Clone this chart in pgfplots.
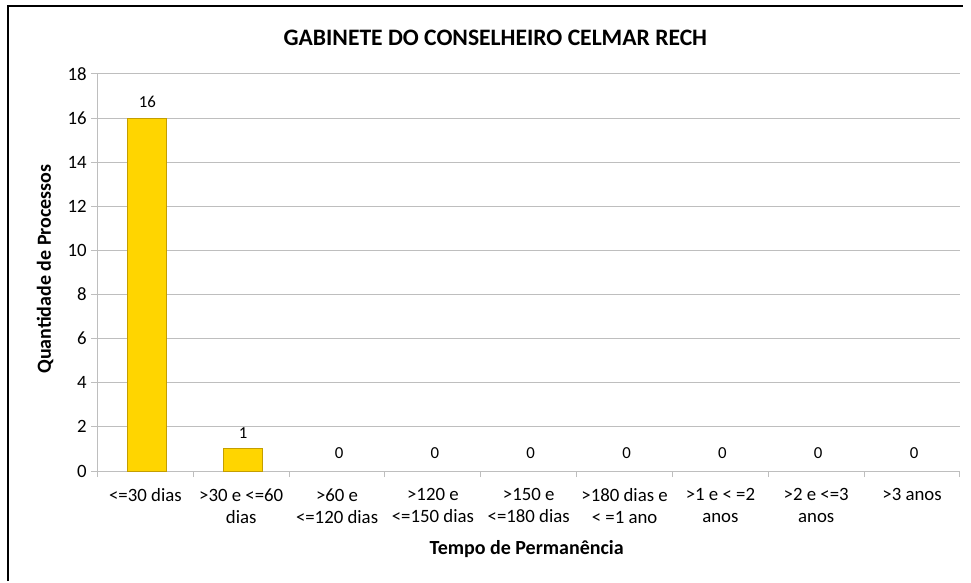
\documentclass[border=0pt]{standalone}
\usepackage{fontspec}
\setmainfont{Carlito}
\usepackage{pgfplots}
\pgfplotsset{compat=1.18}
\definecolor{gold}{RGB}{255,213,0}
\definecolor{goldedge}{RGB}{196,158,0}
\definecolor{gridc}{RGB}{190,190,190}
\begin{document}
\begin{tikzpicture}
\path (0,0) rectangle (728.25pt,435.75pt);
\draw[line width=1.5pt] (6pt,0) -- (6pt,430.9pt) -- (722.25pt,430.9pt);
\node[font=\bfseries\fontsize{17.7pt}{20pt}\selectfont] at (371.5pt,407pt) {GABINETE DO CONSELHEIRO CELMAR RECH};
\node[font=\bfseries\fontsize{15pt}{18pt}\selectfont, rotate=90] at (33.75pt,234pt) {Quantidade de Processos};
\node[font=\bfseries\fontsize{15pt}{18pt}\selectfont] at (395pt,24pt) {Tempo de Permanência};
\begin{axis}[
  at={(73.1pt,82.5pt)}, anchor=south west,
  scale only axis, width=646.9pt, height=297.75pt,
  xmin=-0.5, xmax=8.5, ymin=0, ymax=18,
  ytick={0,2,...,18},
  ymajorgrids, grid style={gridc, line width=0.75pt},
  axis x line*=bottom, axis y line*=left,
  axis line style={gridc, line width=0.75pt},
  tick align=outside,
  major tick length=4.5pt, minor tick length=4.5pt,
  tick style={gridc, line width=0.75pt},
  xtick={0,...,8},
  major x tick style={draw=none},
  minor xtick={-0.5,0.5,...,8.5},
  xticklabels={{<=30 dias},{>30 e <=60\\dias},{>60 e\\<=120 dias},{>120 e\\<=150 dias},{>150 e\\<=180 dias},{>180 dias e\\< =1 ano},{>1 e < =2\\anos},{>2 e <=3\\anos},{>3 anos}},
  xticklabel style={align=center, font=\fontsize{14.1pt}{16.5pt}\selectfont, yshift=-5pt},
  yticklabel style={font=\fontsize{14.1pt}{16.5pt}\selectfont},
  /pgf/number format/assume math mode=true,
  ybar, bar width=29.25pt, bar shift=1.5pt,
  nodes near coords,
  every node near coord/.append style={font=\fontsize{12.6pt}{14pt}\selectfont, yshift=4pt},
]
\addplot[fill=gold, draw=goldedge, line width=0.75pt] coordinates {(0,16) (1,1)};
\addplot[fill=none, draw=none, every node near coord/.append style={yshift=2pt}] coordinates {(2,0) (3,0) (4,0) (5,0) (6,0) (7,0) (8,0)};
\end{axis}
\end{tikzpicture}
\end{document}
